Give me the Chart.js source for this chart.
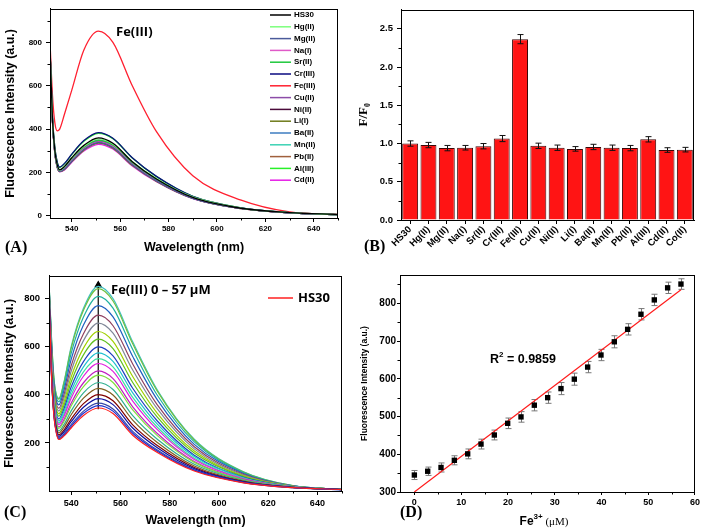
<!DOCTYPE html>
<html>
<head>
<meta charset="utf-8">
<script src="https://cdn.jsdelivr.net/npm/chart.js@4.4.1/dist/chart.umd.min.js"></script>
<style>
body { margin: 0; background: #fff; width: 702px; height: 530px; position: relative; overflow: hidden; }
.panel { position: absolute; width: 351px; height: 265px; }
</style>
</head>
<body>
<div class="panel" style="left:0;top:0"><canvas id="chartA"></canvas></div>
<div class="panel" style="left:351px;top:0"><canvas id="chartB"></canvas></div>
<div class="panel" style="left:0;top:265px"><canvas id="chartC"></canvas></div>
<div class="panel" style="left:351px;top:265px"><canvas id="chartD"></canvas></div>
<script>
// ---- panel A: spectra with different metal ions ----
const waveA = [531, 532, 533, 534, 535, 537, 540, 545, 551, 557, 565, 575, 590, 610, 630, 650];
const ionsA = ['HS30', 'Hg(II)', 'Mg(II)', 'Na(I)', 'Sr(II)', 'Cr(III)', 'Fe(III)', 'Cu(II)',
               'Ni(II)', 'Li(I)', 'Ba(II)', 'Mn(II)', 'Pb(II)', 'Al(III)', 'Cd(II)'];
const colorsA = ['#000000', '#7dff7d', '#4a5a9a', '#e05ac8', '#1ec83c', '#0a0a80', '#ff2030', '#8c4ca8',
                 '#4a0a3a', '#6e7a1a', '#3c7cc0', '#3cd2b4', '#a0603c', '#28f028', '#e61ee6'];
const spectraA = [
  [770, 450, 300, 235, 212, 228, 268, 325, 360, 335, 250, 170, 85, 35, 15, 6],
  [770, 448, 298, 233, 210, 226, 265, 321, 355, 331, 250, 172, 87, 36, 15, 6],
  [765, 440, 290, 225, 205, 216, 252, 306, 338, 315, 236, 161, 81, 34, 14, 6],
  [765, 442, 292, 226, 206, 218, 255, 309, 341, 319, 238, 162, 82, 34, 14, 6],
  [768, 445, 295, 229, 208, 222, 260, 315, 348, 325, 243, 166, 83, 34, 14, 6],
  [780, 465, 315, 248, 225, 242, 285, 347, 384, 358, 268, 182, 90, 37, 15, 6],
  [800, 560, 430, 392, 400, 470, 580, 765, 852, 800, 600, 388, 185, 72, 18, 7],
  [768, 446, 296, 231, 209, 224, 263, 318, 350, 328, 245, 167, 84, 35, 15, 6],
  [765, 442, 292, 227, 207, 219, 255, 309, 341, 319, 238, 162, 82, 34, 14, 6],
  [763, 438, 288, 223, 204, 214, 250, 303, 335, 312, 233, 159, 80, 33, 14, 6],
  [766, 444, 294, 228, 208, 220, 258, 312, 344, 322, 241, 164, 83, 34, 14, 6],
  [765, 443, 292, 227, 207, 219, 256, 309, 341, 318, 239, 163, 82, 34, 14, 6],
  [765, 442, 292, 226, 206, 218, 255, 308, 339, 318, 238, 162, 82, 34, 14, 6],
  [778, 462, 312, 246, 223, 240, 283, 344, 381, 356, 267, 181, 90, 37, 15, 6],
  [762, 436, 286, 222, 203, 212, 247, 299, 330, 308, 230, 157, 79, 33, 14, 6]
];
const xTicksA = [540, 560, 580, 600, 620, 640];
const xMinorA = [550, 570, 590, 610, 630, 650];
const yTicksA = [0, 200, 400, 600, 800];
const yMinorA = [100, 300, 500, 700, 900];

// ---- panel B: F/F0 bars ----
const ionsB = ['HS30', 'Hg(II)', 'Mg(II)', 'Na(I)', 'Sr(II)', 'Cr(III)', 'Fe(III)', 'Cu(II)',
               'Ni(II)', 'Li(I)', 'Ba(II)', 'Mn(II)', 'Pb(II)', 'Al(III)', 'Cd(II)', 'Co(II)'];
const ratioB = [1.00, 0.98, 0.94, 0.945, 0.965, 1.065, 2.365, 0.97, 0.945, 0.93, 0.955, 0.945, 0.94, 1.055, 0.915, 0.92];
const errB = [0.035, 0.035, 0.035, 0.03, 0.035, 0.04, 0.06, 0.035, 0.035, 0.03, 0.035, 0.035, 0.035, 0.035, 0.03, 0.03];
const yTicksB = [0, 0.5, 1.0, 1.5, 2.0, 2.5];
const yMinorB = [0.25, 0.75, 1.25, 1.75, 2.25];

// ---- panel C: titration spectra, Fe(III) 0 - 57 uM ----
const waveC = [531, 532, 533, 534, 535, 537, 540, 545, 551, 557, 565, 575, 590, 610, 630, 650];
const spectraC = [
  [820, 480, 310, 240, 214, 228, 262, 314, 345, 322, 232, 160, 83, 34, 14, 6],
  [821, 483, 313, 243, 217, 232, 269, 323, 355, 332, 240, 165, 86, 35, 14, 6],
  [822, 486, 316, 246, 221, 237, 276, 332, 365, 341, 248, 170, 88, 36, 14, 6],
  [824, 492, 322, 252, 227, 245, 288, 348, 384, 359, 262, 180, 93, 38, 15, 6],
  [826, 498, 328, 258, 233, 252, 299, 363, 401, 375, 275, 189, 98, 39, 15, 6],
  [828, 506, 336, 266, 242, 264, 317, 386, 427, 399, 295, 202, 104, 41, 15, 6],
  [831, 514, 344, 274, 250, 275, 333, 408, 451, 422, 313, 215, 111, 44, 16, 6],
  [834, 523, 353, 283, 260, 288, 353, 434, 482, 451, 337, 230, 119, 46, 16, 6],
  [835, 529, 359, 289, 266, 295, 365, 450, 499, 467, 350, 239, 123, 48, 16, 6],
  [838, 539, 369, 299, 277, 309, 386, 477, 530, 497, 374, 255, 131, 51, 17, 6],
  [840, 545, 375, 305, 283, 318, 399, 495, 550, 516, 389, 265, 136, 53, 17, 6],
  [843, 552, 382, 312, 291, 329, 415, 516, 574, 539, 408, 278, 143, 55, 18, 6],
  [845, 560, 390, 320, 300, 339, 432, 538, 599, 562, 427, 291, 149, 57, 18, 7],
  [848, 570, 400, 330, 311, 353, 453, 566, 631, 592, 451, 307, 158, 60, 19, 7],
  [851, 580, 410, 340, 321, 367, 474, 594, 663, 622, 476, 323, 166, 63, 19, 7],
  [855, 592, 422, 352, 333, 383, 498, 625, 698, 656, 503, 341, 175, 66, 20, 7],
  [858, 602, 432, 362, 344, 397, 520, 654, 731, 687, 528, 358, 184, 69, 20, 7],
  [862, 615, 445, 375, 358, 415, 547, 690, 771, 724, 559, 379, 194, 73, 21, 7],
  [866, 627, 457, 387, 371, 432, 572, 723, 809, 760, 588, 398, 204, 76, 21, 7],
  [869, 637, 467, 397, 382, 446, 593, 751, 841, 790, 612, 415, 212, 79, 22, 7],
  [870, 640, 470, 400, 385, 450, 600, 760, 851, 800, 620, 420, 215, 80, 22, 7]
];
const colorsC = ['#ff2020', '#2030d0', '#3848a8', '#1010a0', '#800000', '#806020', '#30b090', '#80e040',
                 '#c020c0', '#e020e0', '#40e0a0', '#20c0d0', '#2040c0', '#60c020', '#a0d000', '#808898',
                 '#904060', '#2060c0', '#20b0a0', '#70c040', '#40c0c0'];
const arrowX = [551, 551];
const arrowY = [340, 856];
const xTicksC = [540, 560, 580, 600, 620, 640];
const xMinorC = [550, 570, 590, 610, 630, 650];
const yTicksC = [200, 400, 600, 800];
const yMinorC = [100, 300, 500, 700];

// ---- panel D: linear fit ----
const feConc = [0, 2.85, 5.7, 8.55, 11.4, 14.25, 17.1, 19.95, 22.8, 25.65, 28.5,
                31.35, 34.2, 37.05, 39.9, 42.75, 45.6, 48.45, 51.3, 54.15, 57];
const intensD = [345, 355, 365, 384, 401, 427, 451, 482, 499, 530, 550,
                 574, 599, 631, 663, 698, 731, 771, 809, 841, 851];
const errD = [12, 11, 12, 12, 13, 13, 13, 14, 14, 15, 15, 16, 16, 15, 15, 16, 15, 15, 15, 15, 14];
const fitX = [0, 57];
const fitY = [300, 836];
const xTicksD = [0, 10, 20, 30, 40, 50, 60];
const xMinorD = [5, 15, 25, 35, 45, 55];
const yTicksD = [300, 400, 500, 600, 700, 800];
const yMinorD = [350, 450, 550, 650, 750, 850];

Chart.defaults.font.family = "'Liberation Sans', Arial, sans-serif";
Chart.defaults.font.weight = 'bold';
Chart.defaults.color = '#000';
Chart.defaults.animation = false;

// frame, minor ticks, error bars, legend and free text
const decor = {
  id: 'decor',
  beforeDatasetsDraw(chart, args, opts) {
    if (opts.err && opts.err.under) drawErr(chart, opts.err);
  },
  afterDatasetsDraw(chart, args, opts) {
    if (opts.err && !opts.err.under) drawErr(chart, opts.err);
  },
  afterDraw(chart, args, opts) {
    const ctx = chart.ctx, a = chart.chartArea;
    const xs = chart.scales.x, ys = chart.scales.y;
    ctx.save();
    ctx.strokeStyle = '#000';
    ctx.lineWidth = 1;
    ctx.strokeRect(Math.round(a.left) + 0.5, Math.round(a.top) + 0.5,
                   Math.round(a.right - a.left) - 1, Math.round(a.bottom - a.top));
    ctx.beginPath();
    (opts.minorX || []).forEach(v => {
      const px = Math.round(xs.getPixelForValue(v)) + 0.5;
      ctx.moveTo(px, a.bottom); ctx.lineTo(px, a.bottom + 2.5);
    });
    (opts.minorY || []).forEach(v => {
      const py = Math.round(ys.getPixelForValue(v)) + 0.5;
      ctx.moveTo(a.left, py); ctx.lineTo(a.left - 2.5, py);
    });
    ctx.stroke();
    if (opts.legend) {
      const L = opts.legend;
      const items = L.items || chart.data.datasets.map((d, i) => i);
      ctx.font = L.font;
      ctx.textBaseline = 'middle';
      ctx.textAlign = 'left';
      items.forEach((di, k) => {
        const ds = chart.data.datasets[di];
        const y = L.y + k * L.dy;
        ctx.strokeStyle = ds.borderColor;
        ctx.lineWidth = L.lw || 1.5;
        ctx.beginPath(); ctx.moveTo(L.x, y); ctx.lineTo(L.x + L.len, y); ctx.stroke();
        ctx.fillStyle = '#000';
        ctx.fillText(ds.label, L.x + L.len + L.gap, y);
      });
    }
    (opts.texts || []).forEach(t => {
      ctx.textBaseline = 'middle';
      ctx.textAlign = 'left';
      let w = 0;
      t.runs.forEach(r => { ctx.font = r.font; w += ctx.measureText(r.t).width; });
      let x = t.align === 'center' ? t.x - w / 2 : t.x;
      t.runs.forEach(r => {
        ctx.font = r.font;
        ctx.fillStyle = '#000';
        ctx.fillText(r.t, x, t.y + (r.dy || 0));
        x += ctx.measureText(r.t).width;
      });
    });
    ctx.restore();
  }
};

function drawErr(chart, E) {
  const ctx = chart.ctx, ys = chart.scales.y;
  const meta = chart.getDatasetMeta(E.ds);
  const data = chart.data.datasets[E.ds].data;
  ctx.save();
  ctx.strokeStyle = E.color;
  ctx.lineWidth = 1;
  ctx.beginPath();
  meta.data.forEach((el, i) => {
    const v = typeof data[i] === 'number' ? data[i] : data[i].y;
    const x = Math.round(el.x) + 0.5;
    const y1 = ys.getPixelForValue(v + E.vals[i]);
    const y2 = ys.getPixelForValue(v - E.vals[i]);
    ctx.moveTo(x, y1); ctx.lineTo(x, y2);
    ctx.moveTo(x - E.cap, y1); ctx.lineTo(x + E.cap, y1);
    ctx.moveTo(x - E.cap, y2); ctx.lineTo(x + E.cap, y2);
  });
  ctx.stroke();
  ctx.restore();
}

function linAxis(o) {
  return {
    type: 'linear', position: o.pos, min: o.min, max: o.max,
    afterBuildTicks: ax => { ax.ticks = o.ticks.map(v => ({ value: v })); },
    afterFit: ax => { if (o.pos === 'left') ax.width = o.size; else ax.height = o.size; },
    grid: { drawOnChartArea: false, color: '#000', tickLength: o.tickLen || 4, tickWidth: 1 },
    border: { display: true, color: '#000', width: 1 },
    ticks: { font: { size: o.font }, padding: o.pad, autoSkip: false, maxRotation: 0,
             callback: o.fmt || (v => v) },
    title: o.title ? { display: true, text: o.title, font: o.titleFont, padding: o.titlePad } : { display: false }
  };
}

function pts(xs, ys) { return xs.map((x, i) => ({ x: x, y: ys[i] })); }

const serifBold = "bold 16px 'Liberation Serif', 'Times New Roman', serif";
const baseOpts = { responsive: true, maintainAspectRatio: false, events: [] };

// panel A
new Chart(document.getElementById('chartA'), {
  type: 'line',
  data: {
    datasets: spectraA.map((s, i) => ({
      label: ionsA[i], data: pts(waveA, s), borderColor: colorsA[i], borderWidth: 1.3,
      pointRadius: 0, cubicInterpolationMode: 'monotone', fill: false
    }))
  },
  options: Object.assign({}, baseOpts, {
    layout: { padding: { left: 0, right: 13, top: 6, bottom: 0 } },
    scales: {
      x: linAxis({ pos: 'bottom', min: 531, max: 650, ticks: xTicksA, size: 47, font: 8, pad: 2,
                   title: 'Wavelength (nm)', titleFont: { size: 12.5, weight: 'bold' }, titlePad: { top: 0, bottom: 10 } }),
      y: linAxis({ pos: 'left', min: -10, max: 955, ticks: yTicksA, size: 50, font: 8, pad: 4,
                   title: 'Fluorescence Intensity (a.u.)', titleFont: { size: 12.5, weight: 'bold' }, titlePad: { top: 3, bottom: 0 } })
    },
    plugins: {
      legend: { display: false }, tooltip: { enabled: false },
      decor: {
        minorX: xMinorA, minorY: yMinorA,
        legend: { x: 270, y: 15, dy: 11.8, len: 21, gap: 3, font: "bold 8px 'Liberation Sans', Arial, sans-serif" },
        texts: [
          { x: 116, y: 32, runs: [{ t: 'Fe(III)', font: "bold 13px 'Open Sans', sans-serif" }] },
          { x: 5, y: 248, runs: [{ t: '(A)', font: serifBold }] }
        ]
      }
    }
  }),
  plugins: [decor]
});

// panel B
new Chart(document.getElementById('chartB'), {
  type: 'bar',
  data: {
    labels: ionsB,
    datasets: [{ data: ratioB, backgroundColor: '#ff1414', borderColor: '#3a0808', borderWidth: 1,
                 barPercentage: 0.87, categoryPercentage: 1.0 }]
  },
  options: Object.assign({}, baseOpts, {
    layout: { padding: { left: 0, right: 8, top: 2, bottom: 0 } },
    scales: {
      x: {
        type: 'category',
        afterFit: ax => { ax.height = 45; },
        grid: { drawOnChartArea: false, offset: false, color: '#000', tickLength: 4 },
        border: { display: true, color: '#000', width: 1 },
        ticks: { font: { size: 9.5 }, minRotation: 45, maxRotation: 45, autoSkip: false, padding: 0 }
      },
      y: linAxis({ pos: 'left', min: 0, max: 2.75, ticks: yTicksB, size: 50, font: 9.5, pad: 4,
                   fmt: v => v.toFixed(1),
                   title: 'F/F\u2080', titleFont: { size: 13, weight: 'bold', family: "'Liberation Serif', 'DejaVu Serif', serif" },
                   titlePad: { top: 5, bottom: 0 } })
    },
    plugins: {
      legend: { display: false }, tooltip: { enabled: false },
      decor: {
        minorY: yMinorB,
        err: { ds: 0, vals: errB, cap: 3, color: '#111' },
        texts: [{ x: 13, y: 247, runs: [{ t: '(B)', font: serifBold }] }]
      }
    }
  }),
  plugins: [decor]
});

// panel C
const dsC = spectraC.map((s, i) => ({
  label: i === 0 ? 'HS30' : '', data: pts(waveC, s), borderColor: colorsC[i], borderWidth: 1.2,
  pointRadius: 0, cubicInterpolationMode: 'monotone', fill: false
}));
dsC.push({
  label: 'arrow', data: pts(arrowX, arrowY), borderColor: '#000', borderWidth: 1.2,
  pointRadius: [0, 3.5], pointStyle: 'triangle', pointBackgroundColor: '#000', pointBorderColor: '#000'
});
new Chart(document.getElementById('chartC'), {
  type: 'line',
  data: { datasets: dsC },
  options: Object.assign({}, baseOpts, {
    layout: { padding: { left: 0, right: 9, top: 10, bottom: 0 } },
    scales: {
      x: linAxis({ pos: 'bottom', min: 531, max: 650, ticks: xTicksC, size: 39, font: 9, pad: 3,
                   title: 'Wavelength (nm)', titleFont: { size: 12.5, weight: 'bold' }, titlePad: { top: 0, bottom: 1.5 } }),
      y: linAxis({ pos: 'left', min: 0, max: 895, ticks: yTicksC, size: 49, font: 9.5, pad: 5,
                   title: 'Fluorescence Intensity (a.u.)', titleFont: { size: 12.5, weight: 'bold' }, titlePad: { top: 2, bottom: 0 } })
    },
    plugins: {
      legend: { display: false }, tooltip: { enabled: false },
      decor: {
        minorX: xMinorC, minorY: yMinorC,
        legend: { x: 268, y: 33, dy: 0, len: 25, gap: 5, lw: 1.5, items: [0], font: "bold 13px 'Open Sans', sans-serif" },
        texts: [
          { x: 111, y: 25, runs: [{ t: 'Fe(III) 0 \u2013 57 \u00b5M', font: "bold 13px 'Open Sans', sans-serif" }] },
          { x: 4, y: 248, runs: [{ t: '(C)', font: serifBold }] }
        ]
      }
    }
  }),
  plugins: [decor]
});

// panel D
new Chart(document.getElementById('chartD'), {
  type: 'scatter',
  data: {
    datasets: [
      { data: pts(feConc, intensD), pointStyle: 'rect', pointRadius: 3.8, backgroundColor: '#000', borderColor: '#000', borderWidth: 0 },
      { data: pts(fitX, fitY), showLine: true, borderColor: '#ff1a1a', borderWidth: 1.2, pointRadius: 0 }
    ]
  },
  options: Object.assign({}, baseOpts, {
    layout: { padding: { left: 0, right: 7, top: 10, bottom: 0 } },
    scales: {
      x: linAxis({ pos: 'bottom', min: -3.07, max: 60, ticks: xTicksD, size: 38, font: 9, pad: 2, tickLen: 3 }),
      y: linAxis({ pos: 'left', min: 300, max: 875, ticks: yTicksD, size: 49, font: 10, pad: 1, tickLen: 3,
                   title: 'Fluorescence Intensity (a.u.)', titleFont: { size: 8.5, weight: 'bold' }, titlePad: { top: 9, bottom: 0 } })
    },
    plugins: {
      legend: { display: false }, tooltip: { enabled: false },
      decor: {
        minorX: xMinorD, minorY: yMinorD,
        err: { ds: 0, vals: errD, cap: 3, color: '#777', under: true },
        texts: [
          { x: 139, y: 95, runs: [
            { t: 'R', font: "bold 12.5px 'Liberation Sans', Arial, sans-serif" },
            { t: '2', font: "bold 8px 'Liberation Sans', Arial, sans-serif", dy: -5 },
            { t: ' = 0.9859', font: "bold 12.5px 'Liberation Sans', Arial, sans-serif" }] },
          { x: 193, y: 257, align: 'center', runs: [
            { t: 'Fe', font: "bold 12px 'Liberation Sans', Arial, sans-serif" },
            { t: '3+', font: "bold 8px 'Liberation Sans', Arial, sans-serif", dy: -5 },
            { t: ' (\u03bcM)', font: "11px 'Liberation Serif', serif" }] },
          { x: 49, y: 248, runs: [{ t: '(D)', font: serifBold }] }
        ]
      }
    }
  }),
  plugins: [decor]
});
</script>
</body>
</html>
